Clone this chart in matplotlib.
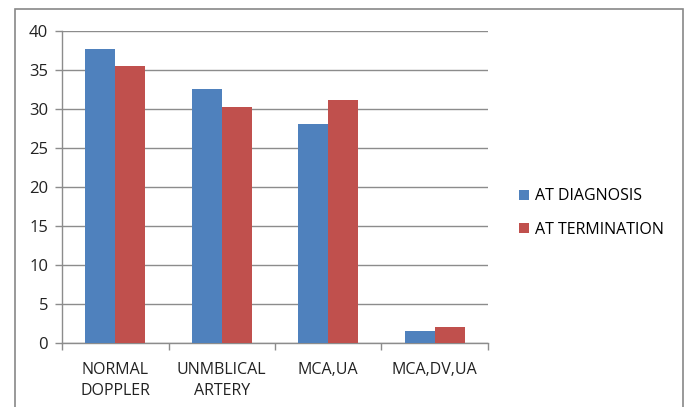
import numpy as np
import matplotlib.pyplot as plt
from matplotlib.patches import Rectangle

# data
categories = ["NORMAL\nDOPPLER", "UNMBLICAL\nARTERY", "MCA,UA", "MCA,DV,UA"]
at_diagnosis = [37.7, 32.6, 28.1, 1.6]
at_termination = [35.5, 30.2, 31.2, 2.1]
series_names = ["AT DIAGNOSIS", "AT TERMINATION"]

plt.rcParams['font.family'] = ['Open Sans', 'DejaVu Sans']

fig = plt.figure(figsize=(6.87, 4.07), dpi=100)
ax = fig.add_axes([62/687, 1 - 343/407, 426/687, 312/407])

x = np.arange(len(categories))
w = 0.28
ax.bar(x - w/2, at_diagnosis, w, color="#4F81BD", label=series_names[0], zorder=3)
ax.bar(x + w/2, at_termination, w, color="#C0504D", label=series_names[1], zorder=3)

ax.set_xlim(-0.5, len(categories) - 0.5)
ax.set_ylim(0, 40)
ax.set_yticks(np.arange(0, 41, 5))
ax.yaxis.grid(True, color="#8c8c8c", linewidth=1, zorder=0)
ax.set_axisbelow(True)

# category labels in the middle, tick marks on the boundaries
ax.set_xticks(x)
ax.set_xticklabels(categories, fontsize=11.5, color="#222222", linespacing=1.35)
ax.tick_params(axis="x", length=0, pad=14)
ax.set_xticks(np.arange(-0.5, len(categories)), minor=True)
ax.tick_params(axis="x", which="minor", length=5, color="#8c8c8c", width=1)
ax.tick_params(axis="y", length=5, color="#8c8c8c", width=1, labelsize=12,
               labelcolor="#222222", pad=5)

for s in ["top", "right"]:
    ax.spines[s].set_visible(False)
for s in ["left", "bottom"]:
    ax.spines[s].set_color("#8c8c8c")
    ax.spines[s].set_linewidth(1)

ax.legend(loc="upper left", bbox_to_anchor=(505/687, 1 - 174/407),
          bbox_transform=fig.transFigure, frameon=False, fontsize=11.5,
          handlelength=0.6, handleheight=0.6, handletextpad=0.4,
          labelspacing=1.1)

# outer chart border like the spreadsheet frame
fig.patches.append(Rectangle((15/687, -0.05), 668/687, 1 - 9/407 + 0.05,
                             transform=fig.transFigure, fill=False,
                             edgecolor="#888888", linewidth=1.2))

plt.savefig("out.png", dpi=100)
